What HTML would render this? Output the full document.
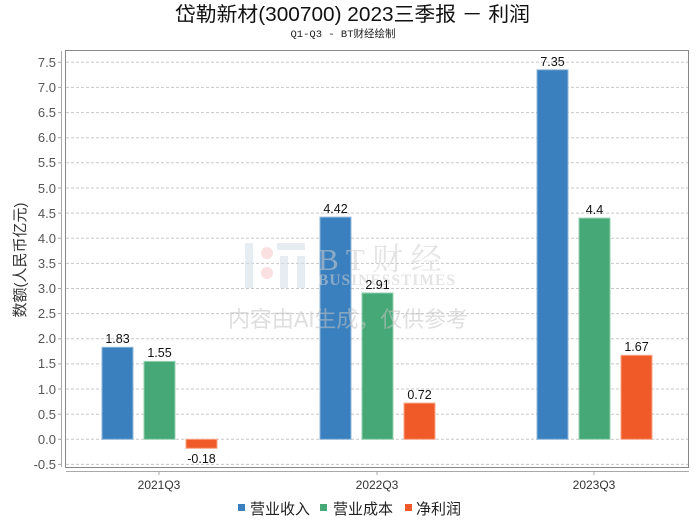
<!DOCTYPE html>
<html><head><meta charset="utf-8"><style>
html,body{margin:0;padding:0;background:#fff;}
svg{display:block;}
text{font-family:"Liberation Sans","Noto Sans CJK SC",sans-serif;}
</style></head><body>
<svg width="700" height="524" viewBox="0 0 700 524" xmlns="http://www.w3.org/2000/svg">
<rect width="700" height="524" fill="#fff"/>
<text x="175" y="21" font-size="20" fill="#111" textLength="355" lengthAdjust="spacingAndGlyphs">岱勒新材(300700) 2023三季报  －  利润</text>
<text x="343" y="37" text-anchor="middle" font-size="10.5" fill="#222" style="font-family:'Liberation Mono','Noto Sans CJK SC',monospace">Q1-Q3 - BT财经绘制</text>

<!-- gridlines -->
<g stroke="#c8c8c8" stroke-width="1" stroke-dasharray="3,2">
<line x1="66" x2="688" y1="62.3" y2="62.3"/>
<line x1="66" x2="688" y1="87.4" y2="87.4"/>
<line x1="66" x2="688" y1="112.6" y2="112.6"/>
<line x1="66" x2="688" y1="137.7" y2="137.7"/>
<line x1="66" x2="688" y1="162.8" y2="162.8"/>
<line x1="66" x2="688" y1="188.0" y2="188.0"/>
<line x1="66" x2="688" y1="213.1" y2="213.1"/>
<line x1="66" x2="688" y1="238.2" y2="238.2"/>
<line x1="66" x2="688" y1="263.4" y2="263.4"/>
<line x1="66" x2="688" y1="288.5" y2="288.5"/>
<line x1="66" x2="688" y1="313.6" y2="313.6"/>
<line x1="66" x2="688" y1="338.8" y2="338.8"/>
<line x1="66" x2="688" y1="363.9" y2="363.9"/>
<line x1="66" x2="688" y1="389.0" y2="389.0"/>
<line x1="66" x2="688" y1="414.2" y2="414.2"/>
<line x1="66" x2="688" y1="439.3" y2="439.3"/>
<line x1="66" x2="688" y1="464.4" y2="464.4"/>
</g>

<!-- frame -->
<rect x="65.5" y="50.5" width="623" height="417" fill="none" stroke="#888" stroke-width="1"/>
<!-- y axis -->
<g stroke="#aaa" stroke-width="1">
<line x1="61.5" x2="61.5" y1="51" y2="467"/>
<line x1="58" x2="61.5" y1="62.3" y2="62.3"/>
<line x1="58" x2="61.5" y1="87.4" y2="87.4"/>
<line x1="58" x2="61.5" y1="112.6" y2="112.6"/>
<line x1="58" x2="61.5" y1="137.7" y2="137.7"/>
<line x1="58" x2="61.5" y1="162.8" y2="162.8"/>
<line x1="58" x2="61.5" y1="188.0" y2="188.0"/>
<line x1="58" x2="61.5" y1="213.1" y2="213.1"/>
<line x1="58" x2="61.5" y1="238.2" y2="238.2"/>
<line x1="58" x2="61.5" y1="263.4" y2="263.4"/>
<line x1="58" x2="61.5" y1="288.5" y2="288.5"/>
<line x1="58" x2="61.5" y1="313.6" y2="313.6"/>
<line x1="58" x2="61.5" y1="338.8" y2="338.8"/>
<line x1="58" x2="61.5" y1="363.9" y2="363.9"/>
<line x1="58" x2="61.5" y1="389.0" y2="389.0"/>
<line x1="58" x2="61.5" y1="414.2" y2="414.2"/>
<line x1="58" x2="61.5" y1="439.3" y2="439.3"/>
<line x1="58" x2="61.5" y1="464.4" y2="464.4"/>
<line x1="66" x2="689" y1="471.5" y2="471.5"/>
<line x1="159" x2="159" y1="471.5" y2="475"/>
<line x1="377" x2="377" y1="471.5" y2="475"/>
<line x1="594" x2="594" y1="471.5" y2="475"/>
</g>
<g font-size="13" fill="#555" text-anchor="end">
<text x="56" y="67">7.5</text>
<text x="56" y="92">7.0</text>
<text x="56" y="117">6.5</text>
<text x="56" y="142">6.0</text>
<text x="56" y="167">5.5</text>
<text x="56" y="193">5.0</text>
<text x="56" y="218">4.5</text>
<text x="56" y="243">4.0</text>
<text x="56" y="268">3.5</text>
<text x="56" y="293">3.0</text>
<text x="56" y="318">2.5</text>
<text x="56" y="343">2.0</text>
<text x="56" y="368">1.5</text>
<text x="56" y="394">1.0</text>
<text x="56" y="419">0.5</text>
<text x="56" y="444">0.0</text>
<text x="56" y="469">-0.5</text>
</g>
<text transform="translate(25,260) rotate(-90)" text-anchor="middle" font-size="15" fill="#333">数额(人民币亿元)</text>

<!-- bars -->
<g stroke-width="1">
<rect x="102" y="347.3" width="31" height="92" fill="#3a80be" stroke="#8fb8dc"/>
<rect x="144" y="361.4" width="31" height="77.9" fill="#46a877" stroke="#95d0b0"/>
<rect x="186" y="439.3" width="31" height="9" fill="#f05a28" stroke="#f7a585"/>
<rect x="320" y="217.1" width="31" height="222.2" fill="#3a80be" stroke="#8fb8dc"/>
<rect x="362" y="293.0" width="31" height="146.3" fill="#46a877" stroke="#95d0b0"/>
<rect x="404" y="403.1" width="31" height="36.2" fill="#f05a28" stroke="#f7a585"/>
<rect x="537" y="69.8" width="31" height="369.5" fill="#3a80be" stroke="#8fb8dc"/>
<rect x="579" y="218.1" width="31" height="221.2" fill="#46a877" stroke="#95d0b0"/>
<rect x="621" y="355.3" width="31" height="84" fill="#f05a28" stroke="#f7a585"/>
</g>

<!-- watermark (overlay) -->
<g opacity="0.55">
<rect x="245" y="243" width="8" height="45" fill="#d4deea"/>
<circle cx="267" cy="253" r="6" fill="#f6c8c8"/>
<circle cx="267" cy="273" r="6" fill="#f6c8c8"/>
<rect x="277" y="243" width="28" height="7" fill="#d4deea"/>
<rect x="280" y="256" width="8" height="32" fill="#d4deea"/>
<rect x="297" y="256" width="8" height="32" fill="#d4deea"/>
<text x="318" y="270" font-size="31" fill="#cfcfcf" style="font-family:'Liberation Serif','Noto Serif CJK SC',serif">B T 财 经</text>
<text x="318" y="285" font-size="15.5" font-weight="bold" fill="#cfcfcf" textLength="137" style="font-family:'Liberation Serif',serif">BUSINESSTIMES</text>
<text x="348" y="327" text-anchor="middle" font-size="22" fill="#c4c4c4" textLength="240">内容由AI生成，仅供参考</text>
</g>

<g font-size="12.5" fill="#111" text-anchor="middle">
<text x="117.5" y="343">1.83</text>
<text x="159.5" y="357">1.55</text>
<text x="201.5" y="463">-0.18</text>
<text x="335.5" y="213">4.42</text>
<text x="377.5" y="289">2.91</text>
<text x="419.5" y="399">0.72</text>
<text x="552.5" y="66">7.35</text>
<text x="594.5" y="214">4.4</text>
<text x="636.5" y="351">1.67</text>
</g>
<g font-size="12" fill="#333" text-anchor="middle">
<text x="159" y="489">2021Q3</text>
<text x="377" y="489">2022Q3</text>
<text x="594" y="489">2023Q3</text>
</g>

<!-- legend -->
<rect x="238" y="504" width="7" height="7" fill="#3a80be"/>
<text x="250" y="514" font-size="15" fill="#222">营业收入</text>
<rect x="320" y="504" width="7" height="7" fill="#46a877"/>
<text x="333" y="514" font-size="15" fill="#222">营业成本</text>
<rect x="405" y="504" width="7" height="7" fill="#f05a28"/>
<text x="416" y="514" font-size="15" fill="#222">净利润</text>
</svg>
</body></html>
